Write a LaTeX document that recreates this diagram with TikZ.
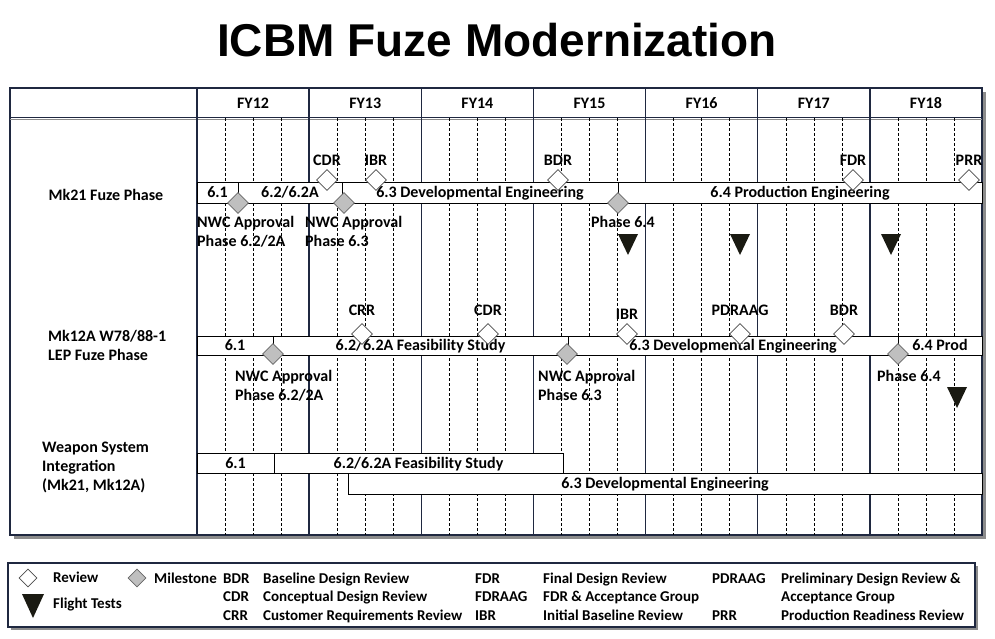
\documentclass[tikz,border=0pt]{standalone}
\usepackage{fontspec}
\setmainfont{Carlito}
\newfontfamily\titlefont{Liberation Sans}
\usetikzlibrary{positioning,shapes.geometric}
\definecolor{framenavy}{HTML}{1F2840}
\definecolor{milegray}{HTML}{BFBFBF}
\definecolor{flightblack}{HTML}{1A1A12}
\definecolor{shadowgray}{HTML}{8C8C8C}

\begin{document}
\begin{tikzpicture}[x=1pt,y=-1pt,
  basefont/.style={font=\bfseries\fontsize{16}{19}\selectfont,inner sep=0pt},
  lbl/.style={basefont,text height=10.3pt,text depth=0pt},
  note/.style={basefont,align=left,anchor=north west},
  legtxt/.style={font=\bfseries\fontsize{15}{18}\selectfont,inner sep=0pt,anchor=base west},
  bar/.style={draw=black,fill=white,line width=0.8pt},
  review/.style={diamond,draw=black!70,fill=white,minimum size=21pt,inner sep=0pt,line width=0.6pt},
  milestone/.style={diamond,draw=black!60,fill=milegray,minimum size=21pt,inner sep=0pt,line width=0.6pt},
  yearline/.style={framenavy,line width=1.5pt},
  qline/.style={black,line width=0.5pt,dash pattern=on 3pt off 2pt},
  boxframe/.style={draw=framenavy,line width=1.5pt,fill=white},
]
\useasboundingbox (0,0) rectangle (995,639);

% title
\node (title) at (497,40) {\titlefont\bfseries\fontsize{46}{50}\selectfont ICBM Fuze Modernization};

% chart frame
\fill[shadowgray] (14,92) rectangle (986,539);
\draw[boxframe] (10,88) rectangle (982,535);
\draw[black!45,line width=1.2pt] (10,119.5) -- (982,119.5);
\draw[framenavy,line width=1pt] (10,118) -- (982,118);

% years and quarters
\foreach \yr [count=\i from 0] in {12,...,18} {
  \pgfmathsetmacro\xa{197+112.14*\i}
  \node[lbl] (fy\yr) at (\xa+56.07,103.5) {FY\yr};
  \foreach \q in {1,2,3}
    \draw[qline] (\xa+28.04*\q,118) -- (\xa+28.04*\q,535);
  \draw[yearline] (\xa,88) -- (\xa,535);
}

% row labels
\node[lbl] (mk21) at (106,195) {Mk21 Fuze Phase};
\node[note] (mk12a) at (48,330) {Mk12A W78/88-1\\LEP Fuze Phase};
\node[note,font=\bfseries\fontsize{16}{18.7}\selectfont] (wsi) at (42,442) {Weapon System\\Integration\\(Mk21, Mk12A)};

% Mk21 phases
\draw[bar] (197,182) rectangle (238,203) node[midway,lbl] (mkA) {6.1};
\draw[bar] (238,182) rectangle (342,203) node[midway,lbl] (mkB) {6.2/6.2A};
\draw[bar] (342,182) rectangle (618,203) node[midway,lbl] (mkC) {6.3 Developmental Engineering};
\draw[bar] (618,182) rectangle (982,203) node[midway,lbl] (mkD) {6.4 Production Engineering};

% Mk12A phases
\draw[bar] (197,336) rectangle (273,355) node[midway,lbl] (leA) {6.1};
\draw[bar] (273,336) rectangle (568,355) node[midway,lbl] (leB) {6.2/6.2A Feasibility Study};
\draw[bar] (568,336) rectangle (898,355) node[midway,lbl] (leC) {6.3 Developmental Engineering};
\draw[bar] (898,336) rectangle (982,355) node[midway,lbl] (leD) {6.4 Prod};

% weapon system phases
\draw[bar] (197,453) rectangle (274,473) node[midway,lbl] (wsA) {6.1};
\draw[bar] (274,453) rectangle (563,473) node[midway,lbl] (wsB) {6.2/6.2A Feasibility Study};
\draw[bar] (348,473) rectangle (982,494) node[midway,lbl] (wsC) {6.3 Developmental Engineering};

% reviews
\foreach \x/\y/\d/\t/\n in {327/180/3/CDR/rvA, 376/180/3/IBR/rvB, 558/180/3/BDR/rvC,
    853/180/3/FDR/rvD, 969/180/3/PRR/rvE, 362/334/8/CRR/rvF, 488/334/8/CDR/rvG,
    627/334/4/IBR/rvH, 740/334/8/PDRAAG/rvI, 844/334/8/BDR/rvJ} {
  \node[review] (\n) at (\x,\y) {};
  \node[lbl,above=\d pt of \n] (\n-t) {\t};
}

% milestones
\foreach \x/\y/\n in {238/203/msA, 344/203/msB, 618/203/msC,
    273/354/msD, 567/354/msE, 898/354/msF}
  \node[milestone] (\n) at (\x,\y) {};

\node[note] (msA-t) at (197,216) {NWC Approval\\Phase 6.2/2A};
\node[note] (msB-t) at (305,216) {NWC Approval\\Phase 6.3};
\node[note] (msC-t) at (591,216) {Phase 6.4};
\node[note] (msD-t) at (235,370) {NWC Approval\\Phase 6.2/2A};
\node[note] (msE-t) at (538,370) {NWC Approval\\Phase 6.3};
\node[note] (msF-t) at (877,370) {Phase 6.4};

% flight tests
\foreach \x/\y in {628/234, 740/234, 891/234, 957/387}
  \fill[flightblack] (\x-10,\y) -- (\x+10,\y) -- (\x,\y+21) -- cycle;

% legend
\fill[shadowgray] (11,566) rectangle (978,630);
\draw[boxframe] (8,563) rectangle (975,627);
\node[review,minimum size=18pt] (lgRev) at (28,578) {};
\node[milestone,minimum size=18pt] (lgMs) at (137,578) {};
\fill[flightblack] (22,594) -- (44,594) -- (33,618) -- cycle;
\node[legtxt] (lgRev-t) at (53,582) {Review};
\node[legtxt] (lgFt-t) at (53,608) {Flight Tests};
\node[legtxt] (lgMs-t) at (154,583) {Milestone};

\foreach \x/\y/\t/\n in {223/583/BDR/abA, 223/601/CDR/abB, 223/620/CRR/abC,
    475/583/FDR/abD, 475/601/FDRAAG/abE, 475/620/IBR/abF,
    712/583/PDRAAG/abG, 712/620/PRR/abH}
  \node[legtxt] (\n) at (\x,\y) {\t};
\foreach \x/\y/\t/\n in {263/583/Baseline Design Review/dsA,
    263/601/Conceptual Design Review/dsB,
    263/620/Customer Requirements Review/dsC,
    543/583/Final Design Review/dsD,
    543/601/FDR \& Acceptance Group/dsE,
    543/620/Initial Baseline Review/dsF,
    781/583/Preliminary Design Review \&/dsG,
    781/601/Acceptance Group/dsH,
    781/620/Production Readiness Review/dsI}
  \node[legtxt] (\n) at (\x,\y) {\t};
\end{tikzpicture}
\end{document}
